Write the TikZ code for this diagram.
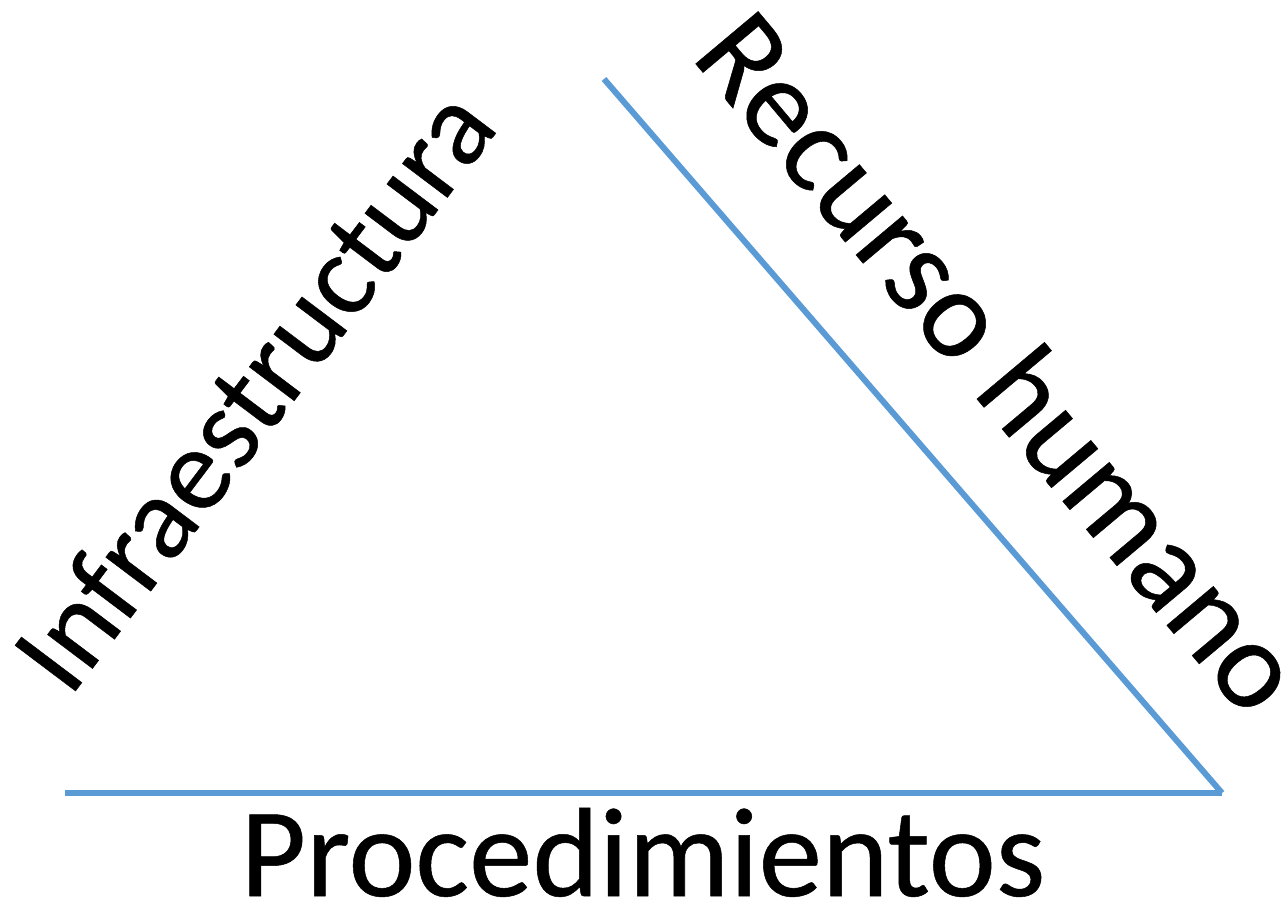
\documentclass[tikz,border=0pt]{standalone}
\usepackage{fontspec}
\setmainfont{Carlito}[FakeBold=0.4]
\definecolor{lineblue}{HTML}{5B9BD5}
\begin{document}
\begin{tikzpicture}[x=1pt,y=1pt,
  side/.style={draw=lineblue,line width=6pt},
  label/.style={inner sep=0pt,font=\fontsize{127}{150}\selectfont,text=black},
  smalllabel/.style={label,font=\fontsize{118}{140}\selectfont}]
\useasboundingbox (0,0) rectangle (1281,903);
\coordinate (bl) at (65,110);
\coordinate (br) at (1222,110);
\coordinate (top) at (604,824);
\draw[side] (bl) -- (br);
\draw[side] (top) -- (br);
\node[smalllabel,rotate=53] (infra) at (253,514) {Infraestructura};
\node[label,rotate=-50] (rh) at (1002,542) {Recurso humano};
\node[label,anchor=base] (proc) at (643,7) {Procedimientos};
\end{tikzpicture}
\end{document}
